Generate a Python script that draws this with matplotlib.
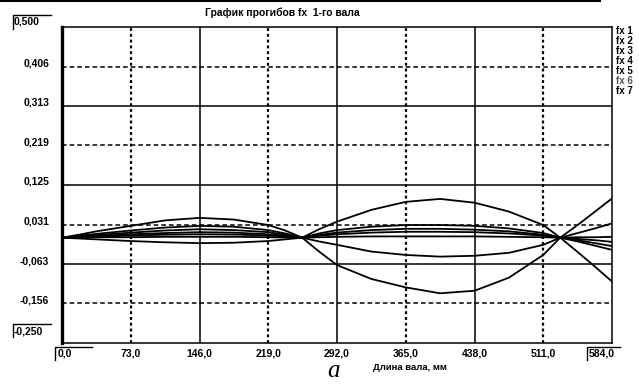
import matplotlib
matplotlib.use("Agg")
import matplotlib.pyplot as plt
from matplotlib.lines import Line2D

# ---------------- data ----------------
x_mm = [0, 18, 36.5, 73, 109.5, 146, 182.5, 219, 237, 255, 273, 292, 328.5, 365, 401.5, 438, 474.5, 511, 529, 547.5, 566, 584]

fx1 = [0, 0.007, 0.015, 0.028, 0.041, 0.047, 0.043, 0.030, 0.017, 0, -0.033, -0.065, -0.098, -0.118, -0.132, -0.126, -0.095, -0.041, 0, 0.030, 0.062, 0.093]
fx2 = [0, -0.002, -0.004, -0.008, -0.011, -0.013, -0.012, -0.008, -0.004, 0, 0.020, 0.038, 0.066, 0.085, 0.092, 0.083, 0.062, 0.030, 0, -0.034, -0.069, -0.104]
fx3 = [0, 0.0045, 0.009, 0.017, 0.024, 0.028, 0.026, 0.018, 0.010, 0, -0.009, -0.017, -0.033, -0.041, -0.045, -0.043, -0.036, -0.017, 0, 0.011, 0.022, 0.034]
fx4 = [0, 0.003, 0.006, 0.012, 0.017, 0.020, 0.018, 0.013, 0.007, 0, 0.010, 0.018, 0.026, 0.030, 0.030, 0.028, 0.022, 0.011, 0, -0.009, -0.019, -0.029]
fx5 = [0, 0.002, 0.004, 0.008, 0.011, 0.013, 0.012, 0.008, 0.0045, 0, 0.0065, 0.012, 0.018, 0.021, 0.021, 0.019, 0.015, 0.007, 0, -0.006, -0.013, -0.020]
fx6 = [0, 0.0012, 0.0025, 0.005, 0.007, 0.008, 0.0074, 0.005, 0.0028, 0, 0.0045, 0.008, 0.012, 0.014, 0.014, 0.013, 0.010, 0.005, 0, -0.003, -0.006, -0.010]
fx7 = [0, 0.0005, 0.001, 0.001, 0.002, 0.002, 0.002, 0.001, 0.0005, 0, 0.001, 0.002, 0.003, 0.003, 0.003, 0.003, 0.002, 0.001, 0, 0.001, 0.001, 0.002]
series = [fx1, fx2, fx3, fx4, fx5, fx6, fx7]
series_names = ["fx 1", "fx 2", "fx 3", "fx 4", "fx 5", "fx 6", "fx 7"]

y_min, y_max = -0.250, 0.500
x_min, x_max = 0.0, 584.0
y_solid = [0.313, 0.125, -0.063]
y_dashed = [0.406, 0.219, 0.031, -0.156]
y_tick_labels = {0.406: "0,406", 0.313: "0,313", 0.219: "0,219", 0.125: "0,125",
                 0.031: "0,031", -0.063: "-0,063", -0.156: "-0,156"}
x_solid = [146, 292, 438]
x_dotted = [73, 219, 365, 511]
x_tick_labels = {73: "73,0", 146: "146,0", 219: "219,0", 292: "292,0",
                 365: "365,0", 438: "438,0", 511: "511,0"}

title = "График прогибов fx  1-го вала"
xlabel = "Длина вала, мм"

# ---------------- figure ----------------
W, H = 639, 384
plt.rcParams['font.family'] = ['Liberation Sans', 'DejaVu Sans']
fig = plt.figure(figsize=(W / 100, H / 100), dpi=100)
fig.patch.set_facecolor("white")

L, R, T, B = 62, 612, 27, 343
ax = fig.add_axes([L / W, 1 - B / H, (R - L) / W, (B - T) / H])
ax.set_xlim(x_min, x_max)
ax.set_ylim(y_min, y_max)
ax.set_xticks([])
ax.set_yticks([])
for s in ["top", "right", "bottom"]:
    ax.spines[s].set_linewidth(1.1)
ax.spines["left"].set_linewidth(2.4)

for yv in y_solid:
    ax.axhline(yv, color="black", lw=1.1, zorder=1)
for yv in y_dashed:
    ax.axhline(yv, color="black", lw=1.1, ls=(0, (3.0, 2.0)), zorder=1)
for xv in x_solid:
    ax.axvline(xv, color="black", lw=1.1, zorder=1)
for xv in x_dotted:
    ax.axvline(xv, color="black", lw=1.6, ls=(0, (1.3, 1.3)), zorder=1)

for ys in series:
    ax.plot(x_mm, ys, color="black", lw=1.3, zorder=3, solid_joinstyle="round")


def px(x, y):
    return x / W, 1 - y / H


fs = 7.5
fw = "bold"
# y labels
for yv, lab in y_tick_labels.items():
    ypix = T + (y_max - yv) / (y_max - y_min) * (B - T) - 3
    fig.text(*px(49, ypix), lab, ha="right", va="center", fontsize=fs, fontweight=fw)

# bracketed end labels
def bracket(x0, y0, x1, y1):
    fig.add_artist(Line2D([x0 / W, x0 / W, x1 / W], [1 - y1 / H, 1 - y0 / H, 1 - y0 / H],
                          transform=fig.transFigure, color="black", lw=1.0))

fig.text(*px(14, 22), "0,500", ha="left", va="center", fontsize=fs, fontweight=fw)
bracket(12.5, 15, 51, 29)
fig.text(*px(14, 331), "-0,250", ha="left", va="center", fontsize=fs, fontweight=fw)
bracket(12.5, 324, 51, 337)

# x labels
for xv, lab in x_tick_labels.items():
    xpix = L + (xv - x_min) / (x_max - x_min) * (R - L)
    fig.text(*px(xpix, 354), lab, ha="center", va="center", fontsize=fs, fontweight=fw)
fig.text(*px(58, 354), "0,0", ha="left", va="center", fontsize=fs, fontweight=fw)
bracket(55, 347, 92, 360)
fig.text(*px(589, 354), "584,0", ha="left", va="center", fontsize=fs, fontweight=fw)
bracket(586.5, 347, 620, 360)

# title, axis label
fig.text(*px(282, 13), title, ha="center", va="center", fontsize=7.5, fontweight=fw)
fig.text(*px(410, 368), xlabel, ha="center", va="center", fontsize=6.8, fontweight=fw)

# legend text
for i, name in enumerate(series_names):
    fig.text(*px(616, 31.5 + 10 * i), name, ha="left", va="center", fontsize=7, fontweight=fw,
             color="#555555" if i == 5 else "black")

# subfigure letter
fig.text(*px(327, 377), "a", ha="left", va="baseline", fontsize=18,
         family="Liberation Serif", style="italic")

# scan edge line at top
fig.add_artist(Line2D([0, 600 / W], [1 - 0.8 / H, 1 - 0.8 / H], transform=fig.transFigure,
                      color="black", lw=1.5))

fig.savefig("out.png", dpi=100, facecolor="white")
